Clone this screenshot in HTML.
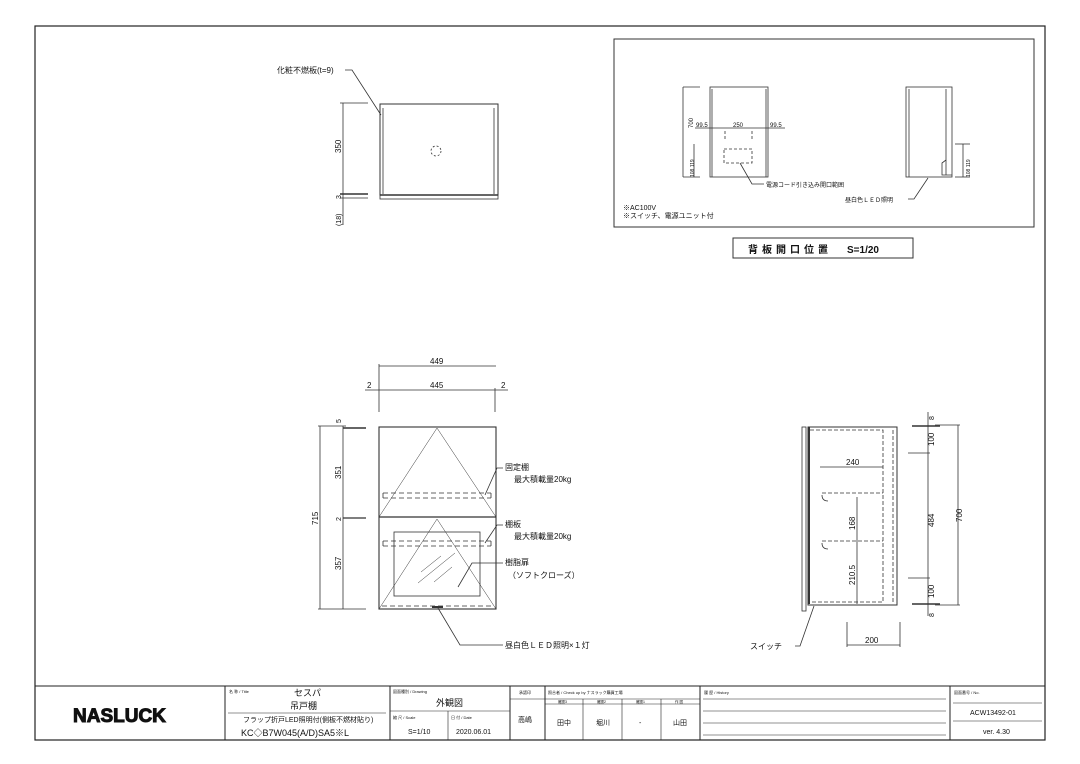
<!DOCTYPE html>
<html><head><meta charset="utf-8"><style>
html,body{margin:0;padding:0;background:#fff;}
svg{display:block;font-family:"Liberation Sans","Noto Sans CJK JP",sans-serif;}
text{fill:#111;}
</style></head><body>
<svg width="1080" height="764" viewBox="0 0 1080 764" xmlns="http://www.w3.org/2000/svg">
<rect x="35" y="26" width="1010" height="714" fill="none" stroke="#222" stroke-width="1.2"/>

<!-- TOP VIEW -->
<g stroke="#333" fill="none" stroke-width="0.8">
<text x="277" y="73" font-size="8" stroke="none">化粧不燃板(t=9)</text>
<polyline points="345,70 352,70 381,115"/>
<rect x="380" y="104" width="118" height="91" stroke-width="1"/>
<line x1="383" y1="108" x2="383" y2="194"/>
<line x1="494" y1="108" x2="494" y2="194"/>
<line x1="380" y1="195" x2="498" y2="195" stroke-width="1.6"/>
<rect x="380" y="195" width="118" height="4"/>
<circle cx="436" cy="151" r="5" stroke-dasharray="2,2"/>
<line x1="343" y1="103" x2="343" y2="225"/>
<line x1="340" y1="103" x2="368" y2="103"/>
<line x1="340" y1="194" x2="368" y2="194" stroke-width="1.4"/>
<line x1="340" y1="198" x2="368" y2="198"/>
</g>
<text font-size="8" transform="translate(341,153) rotate(-90)">350</text>
<text font-size="7" transform="translate(341,199) rotate(-90)">3</text>
<text font-size="7" transform="translate(341,226) rotate(-90)">(18)</text>

<!-- BACK PANEL BOX -->
<g stroke="#333" fill="none" stroke-width="0.8">
<rect x="614" y="39" width="420" height="188" stroke-width="1"/>
<rect x="710" y="87" width="58" height="90"/>
<line x1="712" y1="89" x2="712" y2="177"/>
<line x1="766" y1="89" x2="766" y2="177"/>
<line x1="683" y1="87" x2="700" y2="87"/>
<line x1="683" y1="87" x2="683" y2="177"/>
<line x1="683" y1="177" x2="700" y2="177"/>
<line x1="694" y1="144" x2="694" y2="177"/>
<line x1="695" y1="128" x2="785" y2="128"/>
<rect x="724" y="149" width="28" height="14" stroke-dasharray="3,2"/>
<line x1="725" y1="131" x2="725" y2="139" stroke-dasharray="3,2"/>
<line x1="752" y1="131" x2="752" y2="139" stroke-dasharray="3,2"/>
<polyline points="740,163 752,184 764,184"/>
<rect x="906" y="87" width="46" height="90"/>
<line x1="909" y1="89" x2="909" y2="177"/>
<line x1="946" y1="89" x2="946" y2="175"/>
<polyline points="946,160 942,163 942,175 952,175"/>
<line x1="955" y1="144" x2="970" y2="144"/>
<line x1="955" y1="177" x2="970" y2="177"/>
<line x1="963" y1="144" x2="963" y2="177"/>
<polyline points="908,199 914,199 928,178"/>
<rect x="733" y="238" width="180" height="20" stroke-width="1"/>
</g>
<text x="693" y="128" font-size="6" transform="rotate(-90,693,128)">700</text>
<text x="694" y="177" font-size="5" transform="rotate(-90,694,177)">108 119</text>
<text x="970" y="177" font-size="5" transform="rotate(-90,970,177)">108 119</text>
<text x="696" y="127" font-size="6">99.5</text>
<text x="733" y="127" font-size="6">250</text>
<text x="770" y="127" font-size="6">99.5</text>
<text x="766" y="187" font-size="6">電源コード引き込み開口範囲</text>
<text x="845" y="202" font-size="6">昼白色ＬＥＤ照明</text>
<text x="623" y="210" font-size="7">※AC100V</text>
<text x="623" y="218" font-size="7">※スイッチ、電源ユニット付</text>
<text x="748" y="253" font-size="10" font-weight="bold" letter-spacing="4">背板開口位置</text>
<text x="847" y="253" font-size="10" font-weight="bold">S=1/20</text>

<!-- FRONT VIEW -->
<g stroke="#333" fill="none" stroke-width="0.8">
<line x1="379" y1="366" x2="496" y2="366"/>
<line x1="365" y1="390" x2="508" y2="390"/>
<line x1="379" y1="364" x2="379" y2="412"/>
<line x1="495" y1="388" x2="495" y2="412"/>
<rect x="379" y="427" width="117" height="182" stroke-width="1.1"/>
<line x1="379" y1="517" x2="496" y2="517" stroke-width="1.2"/>
<polyline points="379,517 437,428 496,517" stroke-width="0.5"/>
<polyline points="379,609 437,519 496,609" stroke-width="0.5"/>
<g stroke-dasharray="5,3">
<line x1="383" y1="493" x2="491" y2="493"/><line x1="383" y1="498" x2="491" y2="498"/>
<line x1="383" y1="541" x2="491" y2="541"/><line x1="383" y1="546" x2="491" y2="546"/>
<line x1="382" y1="606" x2="493" y2="606"/>
</g>
<line x1="383" y1="493" x2="383" y2="498"/><line x1="491" y1="493" x2="491" y2="498"/>
<line x1="383" y1="541" x2="383" y2="546"/><line x1="491" y1="541" x2="491" y2="546"/>
<rect x="394" y="532" width="86" height="64"/>
<line x1="421" y1="572" x2="441" y2="556" stroke-width="0.5"/>
<line x1="418" y1="583" x2="455" y2="553" stroke-width="0.5"/>
<line x1="434" y1="582" x2="452" y2="567" stroke-width="0.5"/>
<line x1="432" y1="607" x2="443" y2="607" stroke-width="2"/>
<polyline points="485,495 497,468 503,468"/>
<polyline points="485,543 497,525 503,525"/>
<polyline points="458,587 472,563 503,563"/>
<polyline points="438,608 460,645 503,645"/>
<line x1="320" y1="426" x2="320" y2="609"/>
<line x1="343" y1="426" x2="343" y2="609"/>
<line x1="318" y1="426" x2="346" y2="426"/>
<line x1="318" y1="609" x2="366" y2="609"/>
<line x1="343" y1="428" x2="366" y2="428" stroke-width="1.6"/>
<line x1="343" y1="518" x2="366" y2="518" stroke-width="1.2"/>
</g>
<text x="430" y="364" font-size="8">449</text>
<text x="430" y="388" font-size="8">445</text>
<text x="367" y="388" font-size="8">2</text>
<text x="501" y="388" font-size="8">2</text>
<text font-size="8" transform="translate(318,525) rotate(-90)">715</text>
<text font-size="7" transform="translate(341,423) rotate(-90)">5</text>
<text font-size="8" transform="translate(341,479) rotate(-90)">351</text>
<text font-size="7" transform="translate(341,521) rotate(-90)">2</text>
<text font-size="8" transform="translate(341,570) rotate(-90)">357</text>
<text x="505" y="470" font-size="8">固定棚</text>
<text x="514" y="482" font-size="8">最大積載量20kg</text>
<text x="505" y="527" font-size="8">棚板</text>
<text x="514" y="539" font-size="8">最大積載量20kg</text>
<text x="505" y="565" font-size="8">樹脂扉</text>
<text x="508" y="578" font-size="8">（ソフトクローズ）</text>
<text x="505" y="648" font-size="8">昼白色ＬＥＤ照明×１灯</text>

<!-- SIDE VIEW -->
<g stroke="#333" fill="none" stroke-width="0.8">
<rect x="802" y="427" width="4" height="184"/>
<rect x="808" y="427" width="89" height="178" stroke-width="1"/>
<line x1="809" y1="427" x2="809" y2="604" stroke-width="2"/>
<g stroke-dasharray="4,2">
<polyline points="810,430 883,430 883,602 810,602"/>
<line x1="893" y1="430" x2="893" y2="602"/>
<line x1="822" y1="493" x2="883" y2="493"/>
<line x1="822" y1="541" x2="883" y2="541"/>
</g>
<line x1="820" y1="467" x2="883" y2="467"/>
<line x1="857" y1="497" x2="857" y2="604"/>
<path d="M822,495 q0,6 6,6"/><path d="M822,543 q0,6 6,6"/>
<line x1="912" y1="426" x2="940" y2="426" stroke-width="1.4"/>
<line x1="912" y1="604" x2="940" y2="604" stroke-width="1.4"/>
<line x1="908" y1="453" x2="930" y2="453"/>
<line x1="908" y1="578" x2="930" y2="578"/>
<line x1="928" y1="412" x2="928" y2="616"/>
<line x1="935" y1="425" x2="960" y2="425"/>
<line x1="935" y1="605" x2="960" y2="605"/>
<line x1="958" y1="425" x2="958" y2="605"/>
<line x1="847" y1="622" x2="847" y2="647"/>
<line x1="900" y1="622" x2="900" y2="647"/>
<line x1="847" y1="645" x2="900" y2="645"/>
<polyline points="795,646 800,646 814,606"/>
</g>
<text x="846" y="465" font-size="8">240</text>
<text font-size="8" transform="translate(855,530) rotate(-90)">168</text>
<text font-size="8" transform="translate(855,585) rotate(-90)">210.5</text>
<text font-size="7" transform="translate(934,420) rotate(-90)">8</text>
<text font-size="8" transform="translate(934,446) rotate(-90)">100</text>
<text font-size="8" transform="translate(934,527) rotate(-90)">484</text>
<text font-size="8" transform="translate(934,598) rotate(-90)">100</text>
<text font-size="7" transform="translate(934,617) rotate(-90)">8</text>
<text font-size="8" transform="translate(962,522) rotate(-90)">700</text>
<text x="865" y="643" font-size="8">200</text>
<text x="750" y="649" font-size="8">スイッチ</text>

<!-- TITLE BLOCK -->
<g stroke="#222" fill="none" stroke-width="1">
<line x1="35" y1="686" x2="1045" y2="686"/>
<line x1="225" y1="686" x2="225" y2="740"/>
<line x1="390" y1="686" x2="390" y2="740"/>
<line x1="510" y1="686" x2="510" y2="740"/>
<line x1="545" y1="686" x2="545" y2="740"/>
<line x1="700" y1="686" x2="700" y2="740"/>
<line x1="950" y1="686" x2="950" y2="740"/>
<line x1="228" y1="713" x2="386" y2="713" stroke-width="0.6"/>
<line x1="390" y1="711" x2="510" y2="711" stroke-width="0.6"/>
<line x1="448" y1="711" x2="448" y2="740" stroke-width="0.6"/>
<line x1="510" y1="699" x2="545" y2="699" stroke-width="0.6"/>
<line x1="545" y1="699" x2="700" y2="699" stroke-width="0.6"/>
<line x1="545" y1="704" x2="700" y2="704" stroke-width="0.6"/>
<line x1="583" y1="699" x2="583" y2="740" stroke-width="0.6"/>
<line x1="622" y1="699" x2="622" y2="740" stroke-width="0.6"/>
<line x1="661" y1="699" x2="661" y2="740" stroke-width="0.6"/>
<line x1="703" y1="699" x2="946" y2="699" stroke-width="0.6"/>
<line x1="703" y1="711" x2="946" y2="711" stroke-width="0.6"/>
<line x1="703" y1="723" x2="946" y2="723" stroke-width="0.6"/>
<line x1="703" y1="735" x2="946" y2="735" stroke-width="0.6"/>
<line x1="953" y1="703" x2="1042" y2="703" stroke-width="0.6"/>
<line x1="953" y1="721" x2="1042" y2="721" stroke-width="0.6"/>
</g>
<text x="73" y="722" font-size="19" font-weight="bold" font-family="Liberation Sans, sans-serif" fill="#fff" stroke="#111" stroke-width="1">NASLUCK</text>
<text x="229" y="693" font-size="4">名 称 / Title</text>
<text x="294" y="696" font-size="9">セスパ</text>
<text x="290" y="709" font-size="9">吊戸棚</text>
<text x="243" y="722" font-size="7">フラップ折戸LED照明付(側板不燃材貼り)</text>
<text x="241" y="736" font-size="9">KC◇B7W045(A/D)SA5※L</text>
<text x="393" y="693" font-size="4">図面種別 / Drawing</text>
<text x="436" y="706" font-size="9">外観図</text>
<text x="393" y="719" font-size="4">縮 尺 / Scale</text>
<text x="451" y="719" font-size="4">日 付 / Date</text>
<text x="408" y="734" font-size="7">S=1/10</text>
<text x="456" y="734" font-size="7">2020.06.01</text>
<text x="519" y="694" font-size="4">承認印</text>
<text x="518" y="722" font-size="7">高嶋</text>
<text x="548" y="694" font-size="4">照合者 / Check up by ナスラック購買工場</text>
<text x="558" y="703" font-size="3.5">確認3</text>
<text x="597" y="703" font-size="3.5">確認2</text>
<text x="636" y="703" font-size="3.5">確認1</text>
<text x="675" y="703" font-size="3.5">作 図</text>
<text x="557" y="725" font-size="7">田中</text>
<text x="596" y="725" font-size="7">堀川</text>
<text x="639" y="725" font-size="7">-</text>
<text x="673" y="725" font-size="7">山田</text>
<text x="704" y="694" font-size="4">履 歴 / History</text>
<text x="954" y="694" font-size="4">図面番号 / No.</text>
<text x="970" y="715" font-size="7">ACW13492-01</text>
<text x="983" y="734" font-size="7">ver. 4.30</text>
</svg>
</body></html>
